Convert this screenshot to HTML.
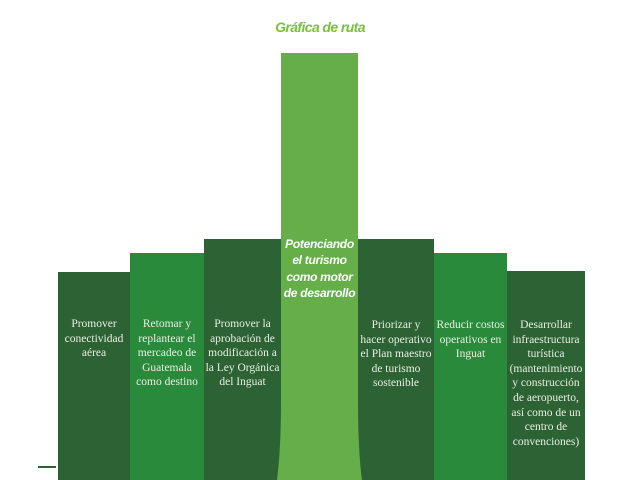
<!DOCTYPE html>
<html><head><meta charset="utf-8"><style>
*{margin:0;padding:0;box-sizing:border-box}
body{width:640px;height:480px;background:#fff;position:relative;overflow:hidden}
.c{position:absolute;bottom:0;color:#e8efe2;font-family:"Liberation Serif",serif;font-size:11.5px;line-height:14.6px;text-align:center;padding-top:0}
.d{background:#2c6234}.m{background:#2a8a3c}
.t{position:absolute;left:0;right:0;white-space:nowrap}
</style></head><body>
<div style="position:absolute;left:0;width:640px;top:19px;text-align:center;font-family:'Liberation Sans',sans-serif;font-weight:bold;font-style:italic;font-size:14px;color:#78c03e;letter-spacing:-0.6px">Gráfica de ruta</div>
<div class="c d" style="left:58px;width:72px;top:272px"><div class="t" style="top:45px">Promover<br>conectividad<br>aérea</div></div>
<div class="c m" style="left:130px;width:74px;top:253px"><div class="t" style="top:64px">Retomar y<br>replantear el<br>mercadeo de<br>Guatemala<br>como destino</div></div>
<div class="c d" style="left:204px;width:77px;top:239px"><div class="t" style="top:78px">Promover la<br>aprobación de<br>modificación a<br>la Ley Orgánica<br>del Inguat</div></div>
<div class="c d" style="left:358px;width:76px;top:239px"><div class="t" style="top:79px">Priorizar y<br>hacer operativo<br>el Plan maestro<br>de turismo<br>sostenible</div></div>
<div class="c m" style="left:434px;width:73px;top:253px"><div class="t" style="top:65px">Reducir costos<br>operativos en<br>Inguat</div></div>
<div class="c d" style="left:507px;width:78px;top:271px"><div class="t" style="top:47px">Desarrollar<br>infraestructura<br>turística<br>(mantenimiento<br>y construcción<br>de aeropuerto,<br>así como de un<br>centro de<br>convenciones)</div></div>
<svg style="position:absolute;left:0;top:0;z-index:1" width="640" height="480">
<path d="M281 53 H358 V400 C358 440 360 465 362 480 H277 C279 465 281 440 281 400 Z" fill="#65ae4a"/>
<rect x="38" y="466" width="18" height="2" fill="#2c6234"/>
</svg>
<div style="position:absolute;z-index:2;left:281px;width:77px;top:236px;text-align:center;color:#fff;font-family:'Liberation Sans',sans-serif;font-weight:bold;font-style:italic;font-size:12px;line-height:16.3px;letter-spacing:-0.3px">Potenciando<br>el turismo<br>como motor<br>de desarrollo</div>
</body></html>
